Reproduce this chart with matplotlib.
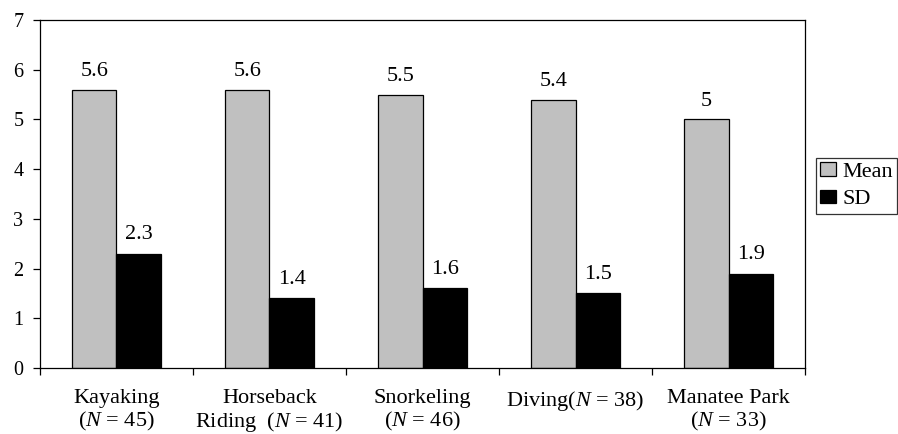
import numpy as np
import matplotlib.pyplot as plt

plt.rcParams['font.family'] = ['Liberation Serif', 'DejaVu Serif']
plt.rcParams['mathtext.fontset'] = 'custom'
plt.rcParams['mathtext.rm'] = 'Liberation Serif'
plt.rcParams['mathtext.it'] = 'Liberation Serif:italic'

# data
categories = ['Kayaking\n($N$ = 45)', 'Horseback\nRiding  ($N$ = 41)', 'Snorkeling\n($N$ = 46)',
              'Diving($N$ = 38)', 'Manatee Park\n($N$ = 33)']
mean_vals = [5.6, 5.6, 5.5, 5.4, 5.0]
sd_vals = [2.3, 1.4, 1.6, 1.5, 1.9]
mean_labels = ['5.6', '5.6', '5.5', '5.4', '5']
sd_labels = ['2.3', '1.4', '1.6', '1.5', '1.9']

fig = plt.figure(figsize=(8.98, 4.34), dpi=100)
ax = fig.add_axes([0.0445, 0.152, 0.852, 0.802])

x = np.arange(len(categories))
w = 0.29
ax.bar(x - w/2, mean_vals, w, color='#c0c0c0', edgecolor='black', linewidth=0.9, label='Mean')
ax.bar(x + w/2, sd_vals, w, color='black', edgecolor='black', linewidth=0.9, label='SD')

for xi, v, s in zip(x - w/2, mean_vals, mean_labels):
    ax.text(xi, v + 0.27, s, ha='center', va='baseline', fontsize=16)
for xi, v, s in zip(x + w/2, sd_vals, sd_labels):
    ax.text(xi, v + 0.29, s, ha='center', va='baseline', fontsize=16)

ax.set_xlim(-0.5, len(categories) - 0.5)
ax.set_ylim(0, 7)
ax.set_yticks(range(0, 8))
ax.tick_params(axis='y', labelsize=14.5, direction='out', length=5, width=0.9, pad=7)

ax.set_xticks(x)
ax.set_xticklabels(categories, fontsize=16, linespacing=1.1)
ax.tick_params(axis='x', which='major', length=0, pad=15)
ax.set_xticks(np.arange(-0.5, len(categories)), minor=True)
ax.tick_params(axis='x', which='minor', length=5, width=0.9, direction='out')

for sp in ax.spines.values():
    sp.set_linewidth(0.9)

leg = ax.legend(loc='upper left', bbox_to_anchor=(0.9087, 0.636), bbox_transform=fig.transFigure,
                fontsize=16, frameon=True, fancybox=False, edgecolor='black',
                handlelength=0.68, handleheight=0.55, handletextpad=0.3, borderpad=0.2,
                labelspacing=0.35, borderaxespad=0)
leg.get_frame().set_linewidth(0.9)

fig.savefig('out.png', dpi=100)
